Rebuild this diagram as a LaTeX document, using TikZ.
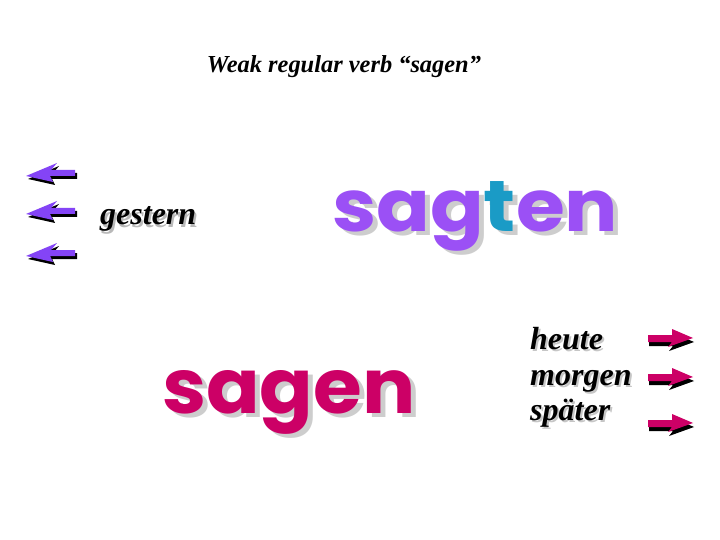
\documentclass[tikz,border=0pt]{standalone}
\usepackage{fontspec}
\setmainfont{Liberation Serif}
\newfontfamily\roundfont{Poppins}
\definecolor{verbpurple}{RGB}{155,80,245}
\definecolor{verbteal}{RGB}{26,155,198}
\definecolor{verbmagenta}{RGB}{204,0,102}
\definecolor{shadowgray}{RGB}{205,205,205}
\tikzset{
  wordtext/.style={anchor=base west, inner sep=0pt, font=\fontsize{32}{36}\selectfont\bfseries\itshape},
  bigword/.style={anchor=base west, inner sep=0pt, font=\fontsize{#1}{#1}\selectfont\roundfont\bfseries}
}

\begin{document}
\begin{tikzpicture}[x=1pt,y=-1pt]

        \useasboundingbox[fill=white] (0,0) rectangle (720,540);

        \node[anchor=base, inner sep=0pt, font=\fontsize{24.4}{28}\selectfont\bfseries\itshape] (titl) at (344,73) {Weak regular verb “sagen”};

        % past
        \node[wordtext, text=gray!55] (gesternsh) at (102,227) {gestern};
        \node[wordtext] (gestern) at (100,225) {gestern};

        \node[bigword=72, text=shadowgray] (sagtensh) at (337,236) {\scalebox{1.1}[1]{sag\textcolor{shadowgray}{t}en}};
        \node[bigword=72, text=verbpurple] (sagten) at (332,232) {\scalebox{1.1}[1]{sag\textcolor{verbteal}{t}en}};

        \foreach \y in {176,214,256} {
            \draw[fill=black,draw=none] (28,\y+3) -- ++(31,-13) -- ++(-6,7) -- ++(24,0) -- ++(0,6) -- ++(-25,0) -- ++(3,6) -- cycle;
            \draw[fill=verbpurple!85!blue,draw=none] (26,\y) -- ++(31,-13) -- ++(-6,7) -- ++(24,0) -- ++(0,6) -- ++(-25,0) -- ++(3,6) -- cycle;
        }

        % present and future
        \node[bigword=76, text=shadowgray] (sagensh) at (167,417) {\scalebox{1.04}[1]{sagen}};
        \node[bigword=76, text=verbmagenta] (sagen) at (162,413) {\scalebox{1.04}[1]{sagen}};

        \node[wordtext, text=gray!45] (heutesh) at (532,351) {heute};
        \node[wordtext] (heute) at (530,349) {heute};
        \node[wordtext, text=gray!45] (morgensh) at (532,387) {morgen};
        \node[wordtext] (morgen) at (530,385) {morgen};
        \node[wordtext, text=gray!45] (spaetersh) at (532,422) {später};
        \node[wordtext] (spaeter) at (530,420) {später};

        \foreach \y in {338,377,423} {
            \draw[fill=black,draw=none] (694,\y+4) -- ++(-21,-9) -- ++(0,6) -- ++(-24,0) -- ++(0,7) -- ++(24,0) -- ++(-4,5) -- cycle;
            \draw[fill=verbmagenta,draw=none] (693,\y) -- ++(-21,-9) -- ++(0,6) -- ++(-24,0) -- ++(0,7) -- ++(24,0) -- ++(-4,5) -- cycle;
        }
\end{tikzpicture}
\end{document}
